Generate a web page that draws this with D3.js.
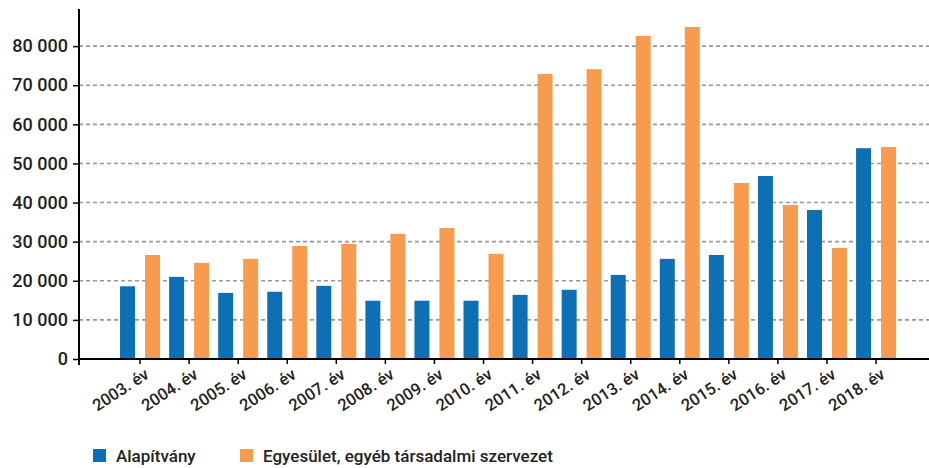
<!DOCTYPE html>
<html>
<head>
<meta charset="utf-8">
<script src="https://cdn.jsdelivr.net/npm/d3@7"></script>
<style>
  body { margin: 0; background: #fff; }
  text { font-family: Roboto, "Noto Sans", sans-serif; fill: #222; }
</style>
</head>
<body>
<script>
// Data
var years = ["2003. év", "2004. év", "2005. év", "2006. év", "2007. év", "2008. év",
             "2009. év", "2010. év", "2011. év", "2012. év", "2013. év", "2014. év",
             "2015. év", "2016. év", "2017. év", "2018. év"];
var series = ["Alapítvány", "Egyesület, egyéb társadalmi szervezet"];
var alapitvany = [18600, 21000, 16900, 17200, 18700, 14900, 14900, 14900,
                  16400, 17700, 21500, 25600, 26600, 46800, 38100, 53900];
var egyesulet = [26600, 24600, 25600, 28900, 29400, 32000, 33500, 26900,
                 72900, 74100, 82600, 84900, 45000, 39400, 28400, 54200];
var yTicks = [0, 10000, 20000, 30000, 40000, 50000, 60000, 70000, 80000];
var colors = ["#0e70b4", "#f79c4f"];

var w = 929, h = 468;

var svg = d3.select("body")
    .append("svg")
    .attr("width", w)
    .attr("height", h);

// Scales
var x = d3.scaleBand()
    .domain(years)
    .range([115.5, 900.6]);

var x1 = d3.scaleBand()
    .domain(series)
    .range([x.bandwidth() / 2 - 20, x.bandwidth() / 2 + 20])
    .paddingInner(0.4);

var y = d3.scaleLinear()
    .domain([0, 90000])
    .range([359, 7]);

var fmt = function(d) { return d3.format(",")(d).replace(/,/g, " "); };

// Gridlines
svg.selectAll(".grid")
    .data(yTicks.filter(d => d > 0))
    .enter()
    .append("line")
    .attr("class", "grid")
    .attr("x1", 79)
    .attr("x2", w)
    .attr("y1", d => y(d))
    .attr("y2", d => y(d))
    .style("stroke", "#999")
    .style("stroke-width", 1.6)
    .style("stroke-dasharray", "4,3");

// Bars
var groups = svg.selectAll(".group")
    .data(years)
    .enter()
    .append("g")
    .attr("class", "group")
    .attr("transform", d => "translate(" + x(d) + ",0)");

groups.selectAll("rect")
    .data((d, i) => [alapitvany[i], egyesulet[i]].map((v, j) => ({ s: series[j], v: v, c: colors[j] })))
    .enter()
    .append("rect")
    .attr("x", d => x1(d.s))
    .attr("width", x1.bandwidth())
    .attr("y", d => y(d.v))
    .attr("height", d => y(0) - y(d.v))
    .style("fill", d => d.c);

// Y axis
var yAxis = svg.append("g")
    .attr("transform", "translate(79,0)")
    .call(d3.axisLeft(y).tickValues(yTicks).tickFormat(fmt).tickSize(6).tickPadding(5));
yAxis.select(".domain").remove();
yAxis.selectAll(".tick line").style("stroke", "#000").style("stroke-width", 1.5);
yAxis.selectAll("text")
    .style("font-size", "18px")
    .style("font-weight", "500")
    .style("fill", "#222");
yAxis.append("line")
    .attr("x1", 0).attr("x2", 0)
    .attr("y1", 9).attr("y2", 365)
    .style("stroke", "#000").style("stroke-width", 2);

// X axis
var xAxis = svg.append("g")
    .attr("transform", "translate(0," + y(0) + ")")
    .call(d3.axisBottom(x).tickSize(5).tickPadding(4));
xAxis.select(".domain").remove();
xAxis.selectAll(".tick line").style("stroke", "#000").style("stroke-width", 1.5);
xAxis.selectAll("text")
    .style("font-size", "16.5px")
    .style("font-weight", "500")
    .style("fill", "#222")
    .attr("text-anchor", "end")
    .attr("dy", "0.35em")
    .attr("transform", "translate(2,6) rotate(-33)");
xAxis.append("line")
    .attr("x1", 79).attr("x2", w)
    .attr("y1", 0).attr("y2", 0)
    .style("stroke", "#000").style("stroke-width", 2);

// Legend
var legendX = [93, 240];
var legend = svg.selectAll(".legend")
    .data(series)
    .enter()
    .append("g")
    .attr("class", "legend")
    .attr("transform", (d, i) => "translate(" + legendX[i] + ",449)");

legend.append("rect")
    .attr("width", 13)
    .attr("height", 13)
    .style("fill", (d, i) => colors[i]);

legend.append("text")
    .attr("x", 23)
    .attr("y", 13)
    .style("font-size", "17px")
    .style("font-weight", "500")
    .text(d => d);
</script>
</body>
</html>
